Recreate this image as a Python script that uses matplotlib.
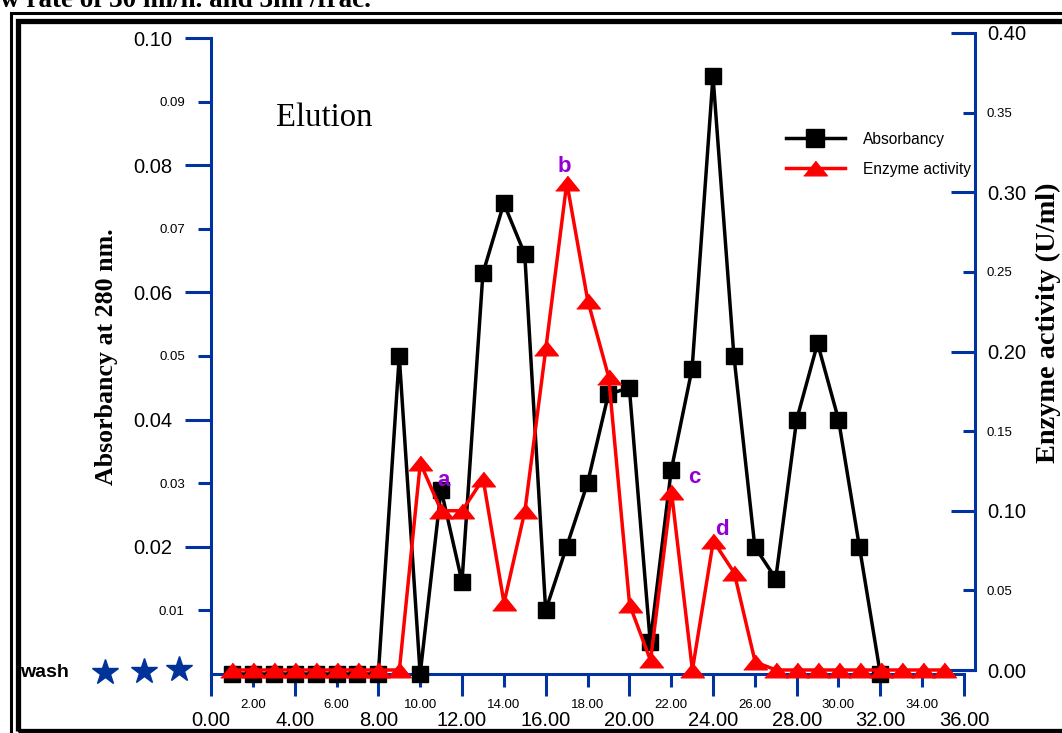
import matplotlib
matplotlib.use('Agg')
import matplotlib.pyplot as plt
from matplotlib.ticker import FixedLocator, FormatStrFormatter
from matplotlib.patches import Rectangle
from matplotlib.lines import Line2D

# fraction numbers
frac_abs = list(range(1, 33))
frac_enz = list(range(1, 36))

# absorbancy at 280 nm (left axis)
absorbancy = [0, 0, 0, 0, 0, 0, 0, 0, 0.050, 0, 0.029, 0.0145, 0.063, 0.074, 0.066, 0.010,
              0.020, 0.030, 0.044, 0.045, 0.005, 0.032, 0.048, 0.094, 0.050, 0.020, 0.015,
              0.040, 0.052, 0.040, 0.020, 0]

# enzyme activity U/ml (right axis)
enzyme = [0, 0, 0, 0, 0, 0, 0, 0, 0, 0.130, 0.100, 0.100, 0.120, 0.042, 0.100, 0.202,
          0.306, 0.232, 0.184, 0.041, 0.006, 0.112, 0, 0.081, 0.061, 0.005, 0, 0, 0, 0,
          0, 0, 0, 0, 0]

peak_names = ['a', 'b', 'c', 'd']
peak_x = [11.1, 16.9, 23.1, 24.4]
peak_y = [0.119, 0.316, 0.121, 0.088]

W, H = 1062, 733
blue = '#0033a0'
purple = '#9400d3'
sans = 'Liberation Sans'
serif = 'Liberation Serif'

fig = plt.figure(figsize=(W / 100, H / 100), dpi=100)

def fx(px):
    return px / W

def fy(py):
    return 1 - py / H

# left axes: x 0..36 from px 211 to 964, y 0..0.10 from px 674 to 38
ax1 = fig.add_axes([fx(211), fy(674), fx(964) - fx(211), fy(38) - fy(674)])
# right axes: spine at px 975, y 0..0.40 from px 670 to 33
ax2 = fig.add_axes([fx(211), fy(670), fx(975) - fx(211), fy(33) - fy(670)])
ax2.patch.set_visible(False)

ax1.set_xlim(0, 36)
ax1.set_ylim(0, 0.10)
ax2.set_xlim(0, (975 - 211) / 20.93)
ax2.set_ylim(0, 0.40)

ax1.plot(frac_abs, absorbancy, color='black', lw=2.5, marker='s', ms=11.5,
         clip_on=False, zorder=3)
tri = [(-1, -0.62), (1, -0.62), (0, 0.62)]
ax2.plot(frac_enz, enzyme, color='red', lw=2.5, marker=tri, ms=17,
         clip_on=False, zorder=3)

# spines
for s in ['top', 'right']:
    ax1.spines[s].set_visible(False)
for s in ['left', 'bottom']:
    ax1.spines[s].set_color(blue)
    ax1.spines[s].set_linewidth(2.2)
for s in ['top', 'left']:
    ax2.spines[s].set_visible(False)
ax2.spines['right'].set_color(blue)
ax2.spines['right'].set_linewidth(2.2)
ax2.spines['bottom'].set_color(blue)
ax2.spines['bottom'].set_linewidth(2.2)
ax2.spines['bottom'].set_bounds(35.1, (975 - 211) / 20.93)

# ticks
ax1.xaxis.set_major_locator(FixedLocator(range(0, 37, 4)))
ax1.xaxis.set_minor_locator(FixedLocator(range(2, 35, 4)))
ax1.xaxis.set_major_formatter(FormatStrFormatter('%.2f'))
ax1.xaxis.set_minor_formatter(FormatStrFormatter('%.2f'))
ax1.tick_params(axis='x', which='major', direction='out', length=16, width=2.2,
                color=blue, labelsize=14.5, pad=10.5)
ax1.tick_params(axis='x', which='minor', direction='out', length=9, width=2.2,
                color=blue, labelsize=9.5, pad=9)

ax1.yaxis.set_major_locator(FixedLocator([0.02, 0.04, 0.06, 0.08, 0.10]))
ax1.yaxis.set_minor_locator(FixedLocator([0.01, 0.03, 0.05, 0.07, 0.09]))
ax1.yaxis.set_major_formatter(FormatStrFormatter('%.2f'))
ax1.yaxis.set_minor_formatter(FormatStrFormatter('%.2f'))
ax1.tick_params(axis='y', which='major', direction='out', length=18.5, width=2.2,
                color=blue, labelsize=14.5, pad=9.4)
ax1.tick_params(axis='y', which='minor', direction='out', length=9.5, width=2.2,
                color=blue, labelsize=9.5, pad=9.4)

ax2.xaxis.set_visible(False)
ax2.yaxis.tick_right()
ax2.yaxis.set_major_locator(FixedLocator([0, 0.1, 0.2, 0.3, 0.4]))
ax2.yaxis.set_minor_locator(FixedLocator([0.05, 0.15, 0.25, 0.35]))
ax2.yaxis.set_major_formatter(FormatStrFormatter('%.2f'))
ax2.yaxis.set_minor_formatter(FormatStrFormatter('%.2f'))
ax2.tick_params(axis='y', which='major', direction='in', length=17, width=2.2,
                color=blue, labelsize=14.5, pad=8.6, left=False, right=True)
ax2.tick_params(axis='y', which='minor', direction='in', length=8.6, width=2.2,
                color=blue, labelsize=9.5, pad=8.6, left=False, right=True)

for ax in (ax1, ax2):
    for lab in ax.get_xticklabels(which='both') + ax.get_yticklabels(which='both'):
        lab.set_fontfamily(sans)

# axis titles
fig.text(fx(106), fy(357), 'Absorbancy at 280 nm.', rotation=90, ha='center',
         va='center', family=serif, weight='bold', fontsize=18.6)
fig.text(fx(1048), fy(323), 'Enzyme activity (U/ml)', rotation=90, ha='center',
         va='center', family=serif, weight='bold', fontsize=20.4)

# annotations
fig.text(fx(276), fy(126), 'Elution', family=serif, fontsize=23.5, va='baseline')
for name, x, y in zip(peak_names, peak_x, peak_y):
    ax2.text(x, y, name, color=purple, family=sans, weight='bold', fontsize=16,
             ha='center', va='center')

fig.text(fx(20), fy(677), 'wash', family=sans, weight='bold', fontsize=14,
         va='baseline')
star_x = [105, 144, 179]
star_y = [672, 671, 669]
fig.add_artist(Line2D([fx(v) for v in star_x], [fy(v) for v in star_y],
                      transform=fig.transFigure, ls='none', marker='*', ms=19,
                      color='#003399'))

# legend
handles = [Line2D([], [], color='black', lw=2.5, marker='s', ms=13),
           Line2D([], [], color='red', lw=2.5, marker=tri, ms=17)]
fig.legend(handles, ['Absorbancy', 'Enzyme activity'], loc='upper left',
           bbox_to_anchor=(fx(778), fy(124)), frameon=False, borderpad=0,
           handlelength=3.8, handletextpad=1.15, labelspacing=0.95,
           prop={'family': sans, 'size': 11.2}, numpoints=1)

# cut-off caption and double frame
fig.text(fx(0), fy(7), 'w rate of 30 ml/h. and 3ml /frac.', family=serif,
         weight='bold', fontsize=19.5, va='baseline')
fig.add_artist(Rectangle((fx(10.5), fy(745)), fx(1100), fy(13) - fy(745),
                         transform=fig.transFigure, fill=False, lw=2.2,
                         edgecolor='black'))
fig.add_artist(Rectangle((fx(17.5), fy(730.5)), fx(1100), fy(20.5) - fy(730.5),
                         transform=fig.transFigure, fill=False, lw=3.8,
                         edgecolor='black'))

fig.savefig('out.png', dpi=100)
